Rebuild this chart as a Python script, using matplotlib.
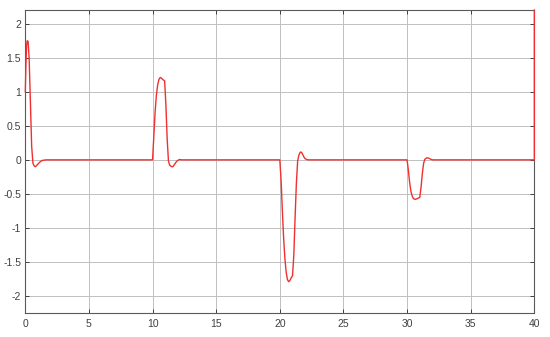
import matplotlib
matplotlib.use("Agg")
import matplotlib.pyplot as plt

# time (s) and response values
t = [0.0, 0.05, 0.1, 0.15, 0.22, 0.3, 0.4, 0.5, 0.6, 0.7, 0.8, 0.9, 1.1, 1.3, 1.6,
     10.0, 10.1, 10.2, 10.3, 10.4, 10.5, 10.6, 10.7, 10.8, 10.95, 11.05, 11.15, 11.25,
     11.35, 11.5, 11.6, 11.75, 11.9, 12.1, 12.3,
     20.0, 20.1, 20.2, 20.3, 20.4, 20.5, 20.6, 20.7, 20.8, 20.9, 21.0, 21.1, 21.2,
     21.3, 21.4, 21.5, 21.6, 21.65, 21.75, 21.9, 22.0, 22.2,
     30.0, 30.1, 30.2, 30.3, 30.4, 30.5, 30.65, 30.8, 31.0, 31.1, 31.2, 31.3, 31.4,
     31.55, 31.7, 31.85, 32.0,
     40.0, 40.0]
y = [1.0, 1.4, 1.68, 1.75, 1.74, 1.5, 0.85, 0.2, -0.05, -0.09, -0.1, -0.08, -0.04, -0.01, 0.0,
     0.0, 0.35, 0.7, 0.95, 1.1, 1.18, 1.21, 1.2, 1.18, 1.16, 0.8, 0.3, -0.02,
     -0.08, -0.1, -0.1, -0.06, -0.02, 0.005, 0.0,
     0.0, -0.3, -0.75, -1.15, -1.45, -1.65, -1.76, -1.79, -1.77, -1.73, -1.70, -1.4, -0.85,
     -0.35, -0.02, 0.07, 0.11, 0.116, 0.1, 0.04, 0.015, 0.0,
     0.0, -0.15, -0.33, -0.46, -0.53, -0.57, -0.58, -0.57, -0.55, -0.4, -0.2, -0.05, 0.01,
     0.03, 0.025, 0.01, 0.0,
     0.0, 2.2]

xticks = [0, 5, 10, 15, 20, 25, 30, 35, 40]
yticks = [-2, -1.5, -1, -0.5, 0, 0.5, 1, 1.5, 2]
ytick_labels = ["-2", "-1.5", "-1", "-0.5", "0", "0.5", "1", "1.5", "2"]

plt.rcParams['font.family'] = ['Liberation Sans', 'DejaVu Sans']

fig = plt.figure(figsize=(5.5, 3.37), dpi=100)
ax = fig.add_axes([0.046, 0.0727, 0.9255, 0.8976])

ax.plot(t, y, color='#f03030', lw=1.0, clip_on=False, zorder=3)

ax.set_xlim(0, 40)
ax.set_ylim(-2.242, 2.201)
ax.set_xticks(xticks)
ax.set_xticklabels([str(v) for v in xticks])
ax.set_yticks(yticks)
ax.set_yticklabels(ytick_labels)

ax.grid(True, color='#c0c0c0', lw=0.7)
ax.set_axisbelow(True)
for s in ax.spines.values():
    s.set_color('#5a5a5a')
    s.set_linewidth(0.8)
ax.tick_params(direction='in', length=3, width=0.7, color='#404040',
               labelsize=7.5, labelcolor='#404040',
               top=True, right=True)
ax.tick_params(axis='x', pad=5)
ax.tick_params(axis='y', pad=3)

fig.savefig('out.png', dpi=100)
